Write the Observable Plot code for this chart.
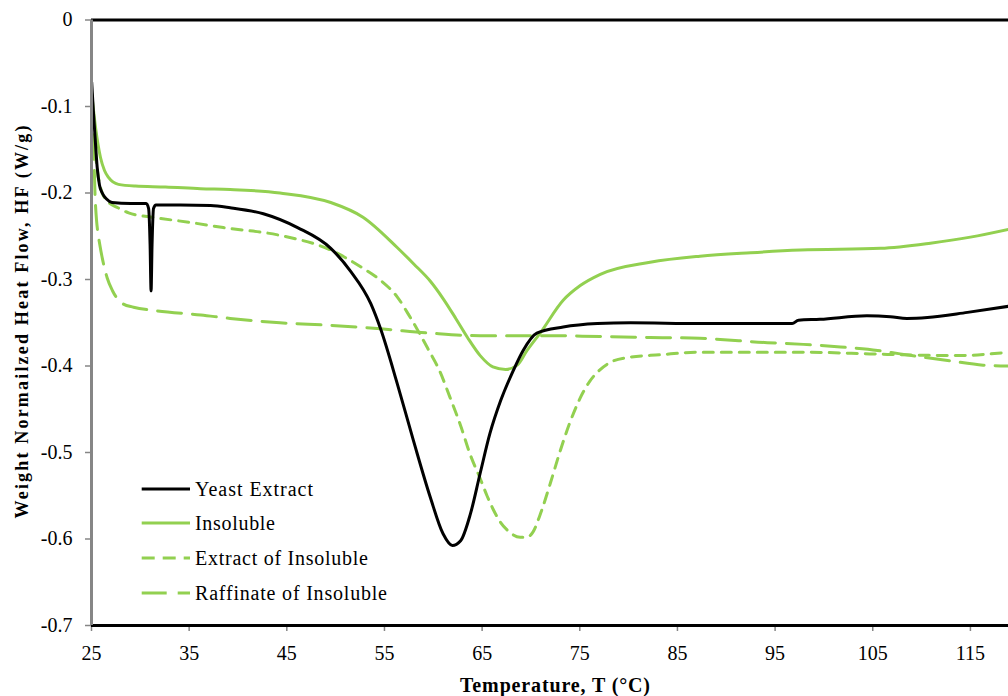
<!DOCTYPE html>
<html>
<head>
<meta charset="utf-8">
<script src="https://cdn.jsdelivr.net/npm/d3@7"></script>
<script src="https://cdn.jsdelivr.net/npm/@observablehq/plot@0.6"></script>
<style>
  html, body { margin: 0; padding: 0; background: #fff; }
  #wrap { position: relative; width: 1008px; height: 696px; overflow: hidden; }
  #overlay { position: absolute; left: 0; top: 0; pointer-events: none; }
  svg text { font-family: "Liberation Serif", "Times New Roman", "DejaVu Serif", serif !important; }
</style>
</head>
<body>
<div id="wrap"></div>
<script>
// ---- Data ----
const seriesNames = ["Yeast Extract", "Insoluble", "Extract of Insoluble", "Raffinate of Insoluble"];

const yeastT  = [25.02, 25.19, 25.34, 25.58, 25.82, 26.1, 26.54, 27.1, 29.0, 30.6, 30.85, 31.0, 31.1, 31.2, 31.35, 31.6, 34.1, 37.2, 39.2, 42.6, 46.1, 49.5, 51.5, 53.6, 54.6, 56.3, 57.96, 59.7, 61.0, 61.95, 62.8, 63.8, 64.8, 65.8, 66.9, 68.2, 69.2, 70.6, 73.3, 76.8, 80.2, 87.3, 96.75, 97.4, 99.6, 104.4, 106.8, 108.5, 110.6, 114.7, 118.9];
const yeastHF = [-0.072, -0.105, -0.131, -0.170, -0.191, -0.200, -0.207, -0.211, -0.212, -0.212, -0.218, -0.260, -0.313, -0.260, -0.218, -0.214, -0.214, -0.2145, -0.217, -0.224, -0.240, -0.264, -0.290, -0.328, -0.357, -0.420, -0.486, -0.552, -0.594, -0.6075, -0.602, -0.571, -0.524, -0.478, -0.440, -0.405, -0.382, -0.362, -0.355, -0.351, -0.350, -0.351, -0.351, -0.347, -0.346, -0.342, -0.343, -0.345, -0.344, -0.338, -0.331];

const insolT  = [25.02, 25.41, 25.92, 26.33, 26.74, 27.76, 29.5, 32.57, 36.16, 39.2, 44.3, 49.5, 52.8, 56.3, 58.0, 59.7, 61.0, 62.3, 63.5, 64.8, 66.1, 67.4, 68.6, 69.6, 71.0, 73.3, 75.05, 77.1, 82.2, 87.3, 92.5, 97.6, 105.8, 110.9, 115.0, 118.9];
const insolHF = [-0.085, -0.124, -0.159, -0.174, -0.182, -0.190, -0.192, -0.193, -0.195, -0.196, -0.200, -0.211, -0.228, -0.263, -0.282, -0.302, -0.322, -0.345, -0.367, -0.388, -0.401, -0.404, -0.399, -0.382, -0.361, -0.324, -0.307, -0.294, -0.280, -0.273, -0.269, -0.266, -0.264, -0.258, -0.251, -0.242];

const extractT  = [25.05, 25.3, 25.6, 26.0, 26.6, 27.7, 28.8, 31.2, 35.1, 38.5, 44.3, 49.5, 52.8, 54.6, 56.3, 57.65, 59.4, 60.7, 61.7, 62.8, 63.8, 64.8, 65.5, 66.1, 66.9, 67.6, 68.9, 69.6, 70.2, 71.0, 72.0, 73.0, 74.0, 75.0, 76.0, 77.0, 78.1, 80.0, 83.2, 87.3, 97.6, 104.7, 107.8, 114.2, 117.0, 118.9];
const extractHF = [-0.091, -0.140, -0.174, -0.197, -0.209, -0.217, -0.223, -0.228, -0.234, -0.240, -0.249, -0.266, -0.287, -0.301, -0.320, -0.344, -0.379, -0.407, -0.436, -0.469, -0.503, -0.530, -0.550, -0.565, -0.581, -0.590, -0.598, -0.598, -0.592, -0.570, -0.535, -0.498, -0.465, -0.438, -0.418, -0.405, -0.396, -0.390, -0.387, -0.384, -0.384, -0.386, -0.387, -0.388, -0.386, -0.384];

const raffT  = [25.05, 25.2, 25.4, 25.9, 26.1, 26.6, 27.15, 28.2, 29.3, 31.55, 36.2, 39.2, 44.3, 49.5, 54.6, 59.7, 64.8, 72.0, 77.1, 82.2, 87.3, 94.2, 97.9, 101.7, 105.5, 107.8, 112.9, 116.3, 118.9];
const raffHF = [-0.093, -0.139, -0.212, -0.263, -0.275, -0.298, -0.313, -0.328, -0.332, -0.336, -0.341, -0.345, -0.350, -0.353, -0.357, -0.362, -0.365, -0.365, -0.366, -0.367, -0.368, -0.373, -0.375, -0.378, -0.382, -0.386, -0.394, -0.399, -0.400];

const xTicks = [25, 35, 45, 55, 65, 75, 85, 95, 105, 115];
const yTicks = [0, -0.1, -0.2, -0.3, -0.4, -0.5, -0.6, -0.7];

const xTitle = "Temperature, T (°C)";
const yTitle = "Weight Normailzed Heat Flow, HF (W/g)";

// ---- Styles ----
const FONT = "'Liberation Serif', 'Times New Roman', 'DejaVu Serif', serif";
const GREEN = "#92D050";
const styles = [
  {stroke: "#000000", dash: null},
  {stroke: GREEN, dash: null},
  {stroke: GREEN, dash: "10,8"},
  {stroke: GREEN, dash: "24,11"}
];

const zipRows = (T, HF) => T.map((t, i) => ({T: t, HF: HF[i]}));
const rows = [
  zipRows(yeastT, yeastHF),
  zipRows(insolT, insolHF),
  zipRows(extractT, extractHF),
  zipRows(raffT, raffHF)
];

const lineMark = (k) => Plot.line(rows[k], {
  x: "T", y: "HF", stroke: styles[k].stroke, strokeWidth: 3,
  strokeDasharray: styles[k].dash || undefined, curve: "monotone-x"
});

const chart = Plot.plot({
  width: 1008,
  height: 696,
  marginTop: 19.5,
  marginBottom: 71,
  marginLeft: 91,
  marginRight: 0,
  style: {fontFamily: FONT, background: "#fff", color: "#000", overflow: "visible"},
  x: {domain: [25, 118.9]},
  y: {domain: [-0.7, 0]},
  marks: [
    Plot.axisX({ticks: xTicks, tickSize: 6, tickPadding: 14, stroke: "#868686", strokeWidth: 1.5, fill: "#000", fontSize: 20, label: null, tickFormat: d => String(d)}),
    Plot.axisY({ticks: yTicks, tickSize: 6, tickPadding: 13, stroke: "#868686", strokeWidth: 1.5, fill: "#000", fontSize: 20, label: null, tickFormat: d => d === 0 ? "0" : d.toFixed(1)}),
    lineMark(3),
    lineMark(2),
    lineMark(1),
    lineMark(0),
    Plot.ruleY([0], {stroke: "#000", strokeWidth: 3}),
    Plot.ruleY([-0.7], {stroke: "#000", strokeWidth: 3}),
    Plot.ruleX([25], {stroke: "#868686", strokeWidth: 3})
  ]
});

const wrap = document.getElementById("wrap");
wrap.appendChild(chart);

// ---- Overlay: axis titles and legend ----
const ns = "http://www.w3.org/2000/svg";
const ov = document.createElementNS(ns, "svg");
ov.setAttribute("id", "overlay");
ov.setAttribute("width", 1008);
ov.setAttribute("height", 696);
wrap.appendChild(ov);

function addText(str, attrs) {
  const t = document.createElementNS(ns, "text");
  t.setAttribute("font-family", FONT);
  for (const [k, v] of Object.entries(attrs)) t.setAttribute(k, v);
  t.textContent = str;
  ov.appendChild(t);
  return t;
}

addText(xTitle, {x: 555, y: 685, "text-anchor": "middle", "dominant-baseline": "central",
  "font-size": 20, "font-weight": "bold", textLength: 190, lengthAdjust: "spacing"});
addText(yTitle, {x: 0, y: 0, transform: "translate(22,322) rotate(-90)", "text-anchor": "middle",
  "dominant-baseline": "central", "font-size": 18, "font-weight": "bold", textLength: 393, lengthAdjust: "spacing"});

const legendY = [489, 523, 558, 593];
const legendW = [118, 80, 173, 192];
seriesNames.forEach((name, k) => {
  const l = document.createElementNS(ns, "line");
  l.setAttribute("x1", 141.7); l.setAttribute("x2", 190);
  l.setAttribute("y1", legendY[k]); l.setAttribute("y2", legendY[k]);
  l.setAttribute("stroke", styles[k].stroke);
  l.setAttribute("stroke-width", 3);
  if (styles[k].dash) l.setAttribute("stroke-dasharray", k === 2 ? "13,8" : "25,11");
  ov.appendChild(l);
  addText(name, {x: 195, y: legendY[k], "dominant-baseline": "central", "font-size": 20,
    textLength: legendW[k], lengthAdjust: "spacing"});
});
</script>
</body>
</html>
